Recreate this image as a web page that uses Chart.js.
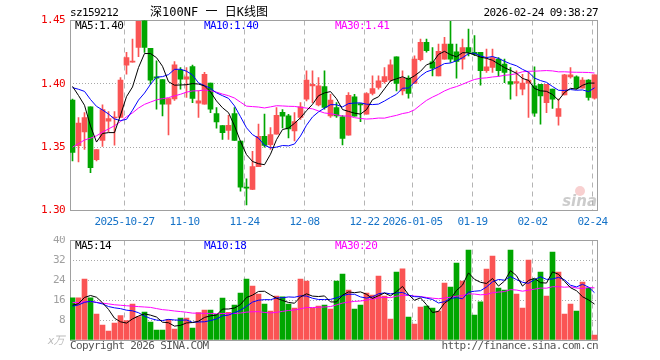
<!DOCTYPE html>
<html>
<head>
<meta charset="utf-8">
<script src="https://cdn.jsdelivr.net/npm/chart.js@4/dist/chart.umd.min.js"></script>
<style>
  html, body { margin: 0; padding: 0; background: #fff; }
  #wrap { position: relative; width: 660px; height: 360px; }
  canvas { position: absolute; left: 0; }
  #kline { top: 0; }
  #vol { top: 236px; }
</style>
</head>
<body>
<div id="wrap">
  <canvas id="kline" width="660" height="236" style="width:660px;height:236px"></canvas>
  <canvas id="vol" width="660" height="124" style="width:660px;height:124px"></canvas>
</div>
<script>
// daily bars, 2025-10-14 .. 2026-02-24
const opens = [1.3871,1.3512,1.3620,1.3818,1.3401,1.3554,1.3705,1.3730,1.3734,1.4148,
  1.4171,1.4287,1.4504,1.4280,1.4055,1.4034,1.3839,1.3880,1.4108,1.4037,
  1.4137,1.3847,1.3839,1.4005,1.3765,1.3670,1.3633,1.3765,1.3549,1.3180,
  1.3167,1.3346,1.3586,1.3520,1.3602,1.3776,1.3747,1.3628,1.3734,1.3879,
  1.3984,1.3834,1.3979,1.3747,1.3813,1.3739,1.3594,1.3897,1.3845,1.3760,
  1.3924,1.3971,1.4018,1.4029,1.4214,1.3945,1.4045,1.4003,1.4190,1.4327,
  1.4174,1.4063,1.4195,1.4314,1.4253,1.4195,1.4287,1.4248,1.4248,1.4103,
  1.4129,1.4195,1.4156,1.4018,1.4005,1.3958,1.4005,1.3984,1.3997,1.3852,
  1.3958,1.3742,1.3913,1.4055,1.4055,1.3966,1.4029,1.3887];
const highs = [1.3880,1.3734,1.3773,1.3818,1.3480,1.3834,1.3781,1.3781,1.4050,1.4248,
  1.4353,1.4493,1.4504,1.4280,1.4182,1.4034,1.3884,1.4175,1.4129,1.4129,
  1.4148,1.3945,1.4090,1.4005,1.3813,1.3670,1.3752,1.3813,1.3549,1.3251,
  1.3467,1.3683,1.3762,1.3655,1.3813,1.3797,1.3760,1.3773,1.3852,1.4103,
  1.4103,1.4050,1.4103,1.3918,1.3852,1.3750,1.3931,1.3918,1.3845,1.3931,
  1.4063,1.4063,1.4129,1.4190,1.4214,1.4103,1.4063,1.4222,1.4353,1.4353,
  1.4287,1.4314,1.4367,1.4493,1.4314,1.4353,1.4432,1.4380,1.4248,1.4274,
  1.4274,1.4208,1.4195,1.4129,1.4103,1.4076,1.4090,1.4134,1.3997,1.3997,
  1.3958,1.3879,1.4076,1.4129,1.4063,1.4050,1.4034,1.4071];
const lows = [1.3391,1.3383,1.3483,1.3299,1.3391,1.3506,1.3620,1.3515,1.3734,1.4076,
  1.4171,1.4214,1.4248,1.3997,1.3800,1.3747,1.3597,1.3870,1.3958,1.3892,
  1.3852,1.3734,1.3839,1.3773,1.3649,1.3562,1.3562,1.3554,1.3153,1.3045,
  1.3164,1.3346,1.3500,1.3483,1.3602,1.3652,1.3573,1.3549,1.3720,1.3866,
  1.3852,1.3826,1.3800,1.3734,1.3734,1.3517,1.3594,1.3744,1.3702,1.3760,
  1.3913,1.3958,1.4005,1.4018,1.3945,1.3913,1.3887,1.4003,1.4180,1.4250,
  1.4063,1.4063,1.4195,1.4169,1.4045,1.4116,1.4220,1.4222,1.3990,1.4090,
  1.4090,1.4060,1.4010,1.3879,1.3905,1.3913,1.3734,1.3742,1.3681,1.3773,
  1.3805,1.3673,1.3913,1.4045,1.3958,1.3966,1.3871,1.3879];
const closes = [1.3459,1.3691,1.3734,1.3338,1.3480,1.3797,1.3726,1.3734,1.4029,1.4208,
  1.4179,1.4493,1.4287,1.4029,1.4045,1.3839,1.3884,1.4150,1.4037,1.4055,
  1.3884,1.3865,1.4076,1.3800,1.3699,1.3615,1.3673,1.3554,1.3185,1.3177,
  1.3346,1.3586,1.3514,1.3599,1.3752,1.3744,1.3645,1.3702,1.3818,1.4029,
  1.3997,1.3984,1.3813,1.3871,1.3747,1.3570,1.3910,1.3744,1.3834,1.3924,
  1.3963,1.4024,1.4058,1.4150,1.4003,1.4045,1.3924,1.4195,1.4327,1.4261,
  1.4124,1.4256,1.4314,1.4195,1.4177,1.4287,1.4248,1.4235,1.4103,1.4135,
  1.4208,1.4103,1.4090,1.3997,1.4018,1.4005,1.4029,1.3768,1.3905,1.3997,
  1.3879,1.3805,1.4071,1.4071,1.3966,1.4029,1.3892,1.4071];
// volume, in 10k lots
const volumes = [17.0,17.0,24.5,17.0,10.4,6.0,3.6,6.8,9.8,7.8,
  14.4,9.4,11.2,7.2,4.0,4.0,8.3,4.4,8.8,8.8,
  4.8,11.0,12.0,12.0,10.3,16.9,11.1,14.0,18.9,24.5,
  21.7,18.5,14.4,11.6,17.7,17.4,14.4,12.8,24.5,23.7,
  12.8,13.6,14.0,12.4,23.7,26.5,20.1,12.4,14.0,18.9,
  18.1,25.7,17.7,8.4,27.3,28.6,9.2,6.4,13.2,13.6,
  12.8,11.6,22.9,21.3,30.9,23.7,36.1,10.0,15.3,28.5,
  33.7,20.9,20.1,36.1,18.5,12.8,32.1,24.5,27.3,17.7,
  35.3,27.3,10.4,14.4,11.6,23.3,20.9,2.0];
// sessions before the window, only used to seed the moving averages
const priorCloses = [1.285,1.288,1.290,1.292,1.294,1.296,1.298,1.303,1.308,
  1.325,1.335,1.342,1.348,1.352,1.356,1.364,1.373,
  1.366,1.355,1.360,
  1.382,1.390,1.398,1.402,1.408,1.405,1.412,1.416,1.411];
const priorVolumes = [18,14,16,20,15,13,17,16,14,19,15,16,12,18,17,15,14,16,17,15,
  12,14,13,15,12,14,12,13,14];

const tickIdx = [9, 19, 29, 39, 49, 57, 67, 77, 87];
const tickLabels = ['2025-10-27','11-10','11-24','12-08','12-22','2026-01-05','01-19','02-02','02-24'];
const priceTicks = [1.30, 1.35, 1.40, 1.45];
const volTicks = [0, 8, 16, 24, 32, 40];
const maPeriods = [5, 10, 30];
const maColors = ['#000000', '#0000ff', '#ff00ff'];
const priceMaText = ['MA5:1.40', 'MA10:1.40', 'MA30:1.41'];
const volMaText = ['MA5:14', 'MA10:18', 'MA30:20'];

const RED = '#fa5454';
const GREEN = '#00a600';
const MONO = '"DejaVu Sans Mono", "Liberation Mono", monospace';

function movingAvg(prior, vals, n) {
  const all = prior.concat(vals);
  return vals.map((_, i) => {
    const end = prior.length + i;
    let s = 0;
    for (let k = end - n + 1; k <= end; k++) s += all[k];
    return s / n;
  });
}

const idx = closes.map((_, i) => i);
const barColors = closes.map((c, i) => (c >= opens[i] ? RED : GREEN));

// letter spacing so the mono font matches the 6px cell of the original
const tightText = {
  id: 'tightText',
  beforeDraw(chart) { chart.ctx.letterSpacing = '-0.6px'; }
};

function frameAndLabels(extra) {
  return {
    id: 'frameAndLabels',
    beforeDatasetsDraw(chart) {
      const a = chart.chartArea, c = chart.ctx;
      c.save();
      c.strokeStyle = '#a0a0a0';
      c.lineWidth = 1;
      const l = Math.floor(a.left) + 0.5, t = Math.floor(a.top) + 0.5;
      c.strokeRect(l, t, Math.floor(a.right) - 1 - Math.floor(a.left), Math.floor(a.bottom) - Math.floor(a.top));
      c.restore();
    },
    afterDraw(chart) {
      const c = chart.ctx;
      c.save();
      c.textBaseline = 'middle';
      extra(c, chart.chartArea);
      c.restore();
    }
  };
}

// keep the plot box exactly where the padding puts it
function noEdgePadding(s) {
  s.paddingTop = 0; s.paddingBottom = 0; s.paddingLeft = 0; s.paddingRight = 0;
}

function xScale(showLabels) {
  return {
    type: 'linear',
    min: -5 / 12,
    max: closes.length - 5 / 12,
    offset: false,
    afterBuildTicks: s => { s.ticks = tickIdx.map(i => ({ value: i - 1 / 3 })); },
    ticks: {
      display: showLabels, autoSkip: false, maxRotation: 0, padding: 5,
      color: '#1673c8', font: { family: MONO, size: 11 },
      callback: (v, k) => tickLabels[k]
    },
    grid: { color: '#b4b4b4', drawTicks: false, offset: false },
    border: { display: false, dash: [5, 4] },
    afterFit: s => { s.height = showLabels ? 25.5 : 0; noEdgePadding(s); }
  };
}

// ---------- price panel ----------
const priceMA = maPeriods.map(n => movingAvg(priorCloses, closes, n));

new Chart(document.getElementById('kline'), {
  type: 'bar',
  data: {
    datasets: [
      ...priceMA.map((ma, k) => ({
        type: 'line', data: idx.map(i => ({ x: i, y: ma[i] })),
        borderColor: maColors[k], borderWidth: 1, pointRadius: 0, tension: 0, order: k
      })),
      {
        data: idx.map(i => ({ x: i, y: [opens[i], closes[i]] })),
        backgroundColor: barColors, barThickness: 5, minBarLength: 1, grouped: false, order: 5
      },
      {
        data: idx.map(i => ({ x: i, y: [lows[i], highs[i]] })),
        backgroundColor: barColors, barThickness: 1, grouped: false, order: 6
      }
    ]
  },
  options: {
    responsive: false, animation: false, devicePixelRatio: 1,
    layout: { padding: { top: 20.5, right: 62, left: 0, bottom: 0 } },
    plugins: { legend: { display: false }, tooltip: { enabled: false } },
    scales: {
      x: xScale(true),
      y: {
        type: 'linear', min: 1.30, max: 1.45,
        afterBuildTicks: s => { s.ticks = priceTicks.map(v => ({ value: v })); },
        ticks: { color: '#ee0000', padding: 5, font: { family: MONO, size: 11 }, callback: v => v.toFixed(2) },
        grid: { color: '#a8a8a8', drawTicks: false },
        border: { display: false, dash: [1, 2] },
        afterFit: s => { s.width = 70; noEdgePadding(s); }
      }
    }
  },
  plugins: [tightText, frameAndLabels((c, a) => {
    c.font = '11px ' + MONO;
    c.fillStyle = '#000';
    c.textAlign = 'left';
    c.fillText('sz159212', 70, 13);
    c.textAlign = 'right';
    c.fillText('2026-02-24 09:38:27', 598, 13);
    c.letterSpacing = '0px';
    c.textAlign = 'center';
    c.font = '12px "DejaVu Sans Mono", "Noto Sans CJK SC", monospace';
    c.fillText('深100NF 一 日K线图', 209, 13);
    c.letterSpacing = '-0.6px';
    c.font = '11px ' + MONO;
    c.textAlign = 'left';
    [75, 204, 335].forEach((x, k) => {
      c.fillStyle = maColors[k];
      c.fillText(priceMaText[k], x, 26);
    });
    // sina watermark
    c.letterSpacing = '0px';
    c.fillStyle = 'rgba(235,120,120,0.35)';
    c.beginPath();
    c.arc(580, 191, 5, 0, Math.PI * 2);
    c.fill();
    c.fillStyle = 'rgba(170,170,170,0.6)';
    c.font = 'italic bold 15px "DejaVu Sans", sans-serif';
    c.textAlign = 'right';
    c.fillText('sina', 597, 202);
  })]
});

// ---------- volume panel ----------
const volMA = maPeriods.map(n => movingAvg(priorVolumes, volumes, n));

new Chart(document.getElementById('vol'), {
  type: 'bar',
  data: {
    datasets: [
      ...volMA.map((ma, k) => ({
        type: 'line', data: idx.map(i => ({ x: i, y: ma[i] })),
        borderColor: maColors[k], borderWidth: 1, pointRadius: 0, tension: 0, order: k
      })),
      {
        data: idx.map(i => ({ x: i, y: volumes[i] })),
        backgroundColor: barColors, barThickness: 5, grouped: false, order: 5
      }
    ]
  },
  options: {
    responsive: false, animation: false, devicePixelRatio: 1,
    layout: { padding: { top: 4.5, right: 62, left: 0, bottom: 20 } },
    plugins: { legend: { display: false }, tooltip: { enabled: false } },
    scales: {
      x: xScale(false),
      y: {
        type: 'linear', min: 0, max: 40,
        afterBuildTicks: s => { s.ticks = volTicks.map(v => ({ value: v })); },
        ticks: { color: '#a0a0a0', padding: 5, font: { family: MONO, size: 11 }, callback: v => (v === 0 ? '' : String(v)) },
        grid: { color: '#a8a8a8', drawTicks: false },
        border: { display: false, dash: [1, 2] },
        afterFit: s => { s.width = 70; noEdgePadding(s); }
      }
    }
  },
  plugins: [tightText, frameAndLabels((c, a) => {
    c.font = '11px ' + MONO;
    c.textAlign = 'left';
    [75, 204, 335].forEach((x, k) => {
      c.fillStyle = maColors[k];
      c.fillText(volMaText[k], x, 10.5);
    });
    c.fillStyle = '#555';
    c.fillText('Copyright 2026 SINA.COM', 70, 110);
    c.textAlign = 'right';
    c.fillText('http://finance.sina.com.cn', 598, 110);
    c.fillStyle = '#bdbdbd';
    c.font = 'italic 11px "DejaVu Sans", "Noto Sans CJK SC", sans-serif';
    c.fillText('x万', 64, 105);
  })]
});
</script>
</body>
</html>
